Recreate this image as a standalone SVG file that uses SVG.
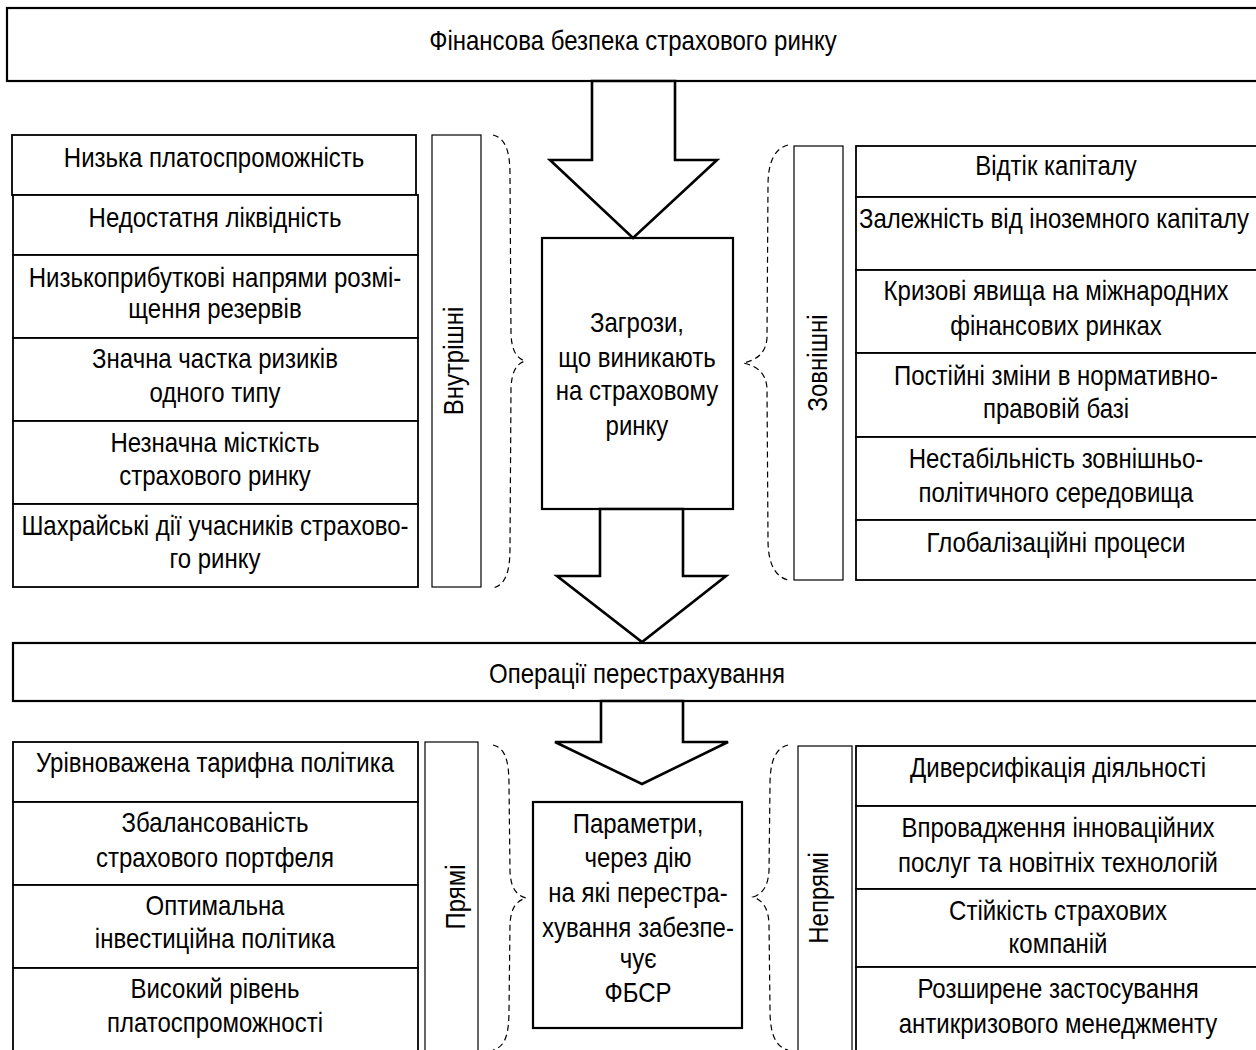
<svg xmlns="http://www.w3.org/2000/svg" width="1256" height="1050" viewBox="0 0 1256 1050">
<style>
text{font-family:"Liberation Sans",Arial,sans-serif;font-size:28px;fill:#000;text-anchor:middle}
.main{fill:#fff;stroke:#000;stroke-width:2.2}
.item{fill:#fff;stroke:#000;stroke-width:1.8}
.lab{fill:#fff;stroke:#000;stroke-width:1.2}
.arrow{fill:#fff;stroke:#000;stroke-width:2.6;stroke-linejoin:miter}
.brace{fill:none;stroke:#000;stroke-width:1.2;stroke-dasharray:6 4}
</style>
<rect width="1256" height="1050" fill="#fff"/>

<g id="title">
<rect class="main" x="7" y="8" width="1260" height="73"/>
<text transform="translate(633,0) scale(0.857,1)" x="0" y="50">Фінансова безпека страхового ринку</text>
</g>

<g id="internal-list">
<rect class="item" x="12" y="135" width="404" height="60"/>
<text transform="translate(214,0) scale(0.857,1)" x="0" y="167">Низька платоспроможність</text>
<rect class="item" x="13" y="195" width="405" height="60"/>
<text transform="translate(215,0) scale(0.857,1)" x="0" y="227">Недостатня ліквідність</text>
<rect class="item" x="13" y="255" width="405" height="83"/>
<text transform="translate(215,0) scale(0.857,1)"><tspan x="0" y="287">Низькоприбуткові напрями розмі-</tspan><tspan x="0" y="318">щення резервів</tspan></text>
<rect class="item" x="13" y="338" width="405" height="83"/>
<text transform="translate(215,0) scale(0.857,1)"><tspan x="0" y="368">Значна частка ризиків</tspan><tspan x="0" y="402">одного типу</tspan></text>
<rect class="item" x="13" y="421" width="405" height="83"/>
<text transform="translate(215,0) scale(0.857,1)"><tspan x="0" y="452">Незначна місткість</tspan><tspan x="0" y="485">страхового ринку</tspan></text>
<rect class="item" x="13" y="504" width="405" height="83"/>
<text transform="translate(215,0) scale(0.857,1)"><tspan x="0" y="535">Шахрайські дії учасників страхово-</tspan><tspan x="0" y="568">го ринку</tspan></text>
</g>

<g id="label-internal">
<rect class="lab" x="432" y="135" width="49" height="452"/>
<text transform="translate(463,361) rotate(-90) scale(0.857,1)" x="0" y="0">Внутрішні</text>
</g>

<g id="threats">
<rect class="main" x="542" y="238" width="191" height="271"/>
<text transform="translate(637,0) scale(0.857,1)"><tspan x="0" y="332">Загрози,</tspan><tspan x="0" y="367">що виникають</tspan><tspan x="0" y="400">на страховому</tspan><tspan x="0" y="435">ринку</tspan></text>
</g>

<g id="label-external">
<rect class="lab" x="794" y="146" width="49" height="434"/>
<text transform="translate(827,363) rotate(-90) scale(0.857,1)" x="0" y="0">Зовнішні</text>
</g>

<g id="external-list">
<rect class="item" x="856" y="146" width="404" height="51"/>
<text transform="translate(1056,0) scale(0.857,1)" x="0" y="175">Відтік капіталу</text>
<rect class="item" x="856" y="197" width="404" height="73"/>
<text transform="translate(1054,0) scale(0.857,1)" x="0" y="228">Залежність від іноземного капіталу</text>
<rect class="item" x="856" y="270" width="404" height="83"/>
<text transform="translate(1056,0) scale(0.857,1)"><tspan x="0" y="300">Кризові явища на міжнародних</tspan><tspan x="0" y="335">фінансових ринках</tspan></text>
<rect class="item" x="856" y="353" width="404" height="84"/>
<text transform="translate(1056,0) scale(0.857,1)"><tspan x="0" y="385">Постійні зміни в нормативно-</tspan><tspan x="0" y="418">правовій базі</tspan></text>
<rect class="item" x="856" y="437" width="404" height="83"/>
<text transform="translate(1056,0) scale(0.857,1)"><tspan x="0" y="468">Нестабільність зовнішньо-</tspan><tspan x="0" y="502">політичного середовища</tspan></text>
<rect class="item" x="856" y="520" width="404" height="60"/>
<text transform="translate(1056,0) scale(0.857,1)" x="0" y="552">Глобалізаційні процеси</text>
</g>

<g id="reinsurance">
<rect class="main" x="13" y="643" width="1260" height="58"/>
<text transform="translate(637,0) scale(0.857,1)" x="0" y="683">Операції перестрахування</text>
</g>

<g id="direct-list">
<rect class="item" x="13" y="742" width="405" height="60"/>
<text transform="translate(215,0) scale(0.857,1)" x="0" y="772">Урівноважена тарифна політика</text>
<rect class="item" x="13" y="802" width="405" height="83"/>
<text transform="translate(215,0) scale(0.857,1)"><tspan x="0" y="832">Збалансованість</tspan><tspan x="0" y="867">страхового портфеля</tspan></text>
<rect class="item" x="13" y="885" width="405" height="83"/>
<text transform="translate(215,0) scale(0.857,1)"><tspan x="0" y="915">Оптимальна</tspan><tspan x="0" y="948">інвестиційна політика</tspan></text>
<rect class="item" x="13" y="968" width="405" height="100"/>
<text transform="translate(215,0) scale(0.857,1)"><tspan x="0" y="998">Високий рівень</tspan><tspan x="0" y="1032">платоспроможності</tspan></text>
</g>

<g id="label-direct">
<rect class="lab" x="425" y="742" width="53" height="330"/>
<text transform="translate(465,897) rotate(-90) scale(0.857,1)" x="0" y="0">Прямі</text>
</g>

<g id="parameters">
<rect class="main" x="533" y="802" width="209" height="226"/>
<text transform="translate(638,0) scale(0.857,1)"><tspan x="0" y="833">Параметри,</tspan><tspan x="0" y="867">через дію</tspan><tspan x="0" y="902">на які перестра-</tspan><tspan x="0" y="937">хування забезпе-</tspan><tspan x="0" y="968">чує</tspan><tspan x="0" y="1002">ФБСР</tspan></text>
</g>

<g id="label-indirect">
<rect class="lab" x="798" y="746" width="54" height="330"/>
<text transform="translate(828,898) rotate(-90) scale(0.857,1)" x="0" y="0">Непрямі</text>
</g>

<g id="indirect-list">
<rect class="item" x="856" y="746" width="404" height="60"/>
<text transform="translate(1058,0) scale(0.857,1)" x="0" y="777">Диверсифікація діяльності</text>
<rect class="item" x="856" y="806" width="404" height="83"/>
<text transform="translate(1058,0) scale(0.857,1)"><tspan x="0" y="837">Впровадження інноваційних</tspan><tspan x="0" y="872">послуг та новітніх технологій</tspan></text>
<rect class="item" x="856" y="889" width="404" height="78"/>
<text transform="translate(1058,0) scale(0.857,1)"><tspan x="0" y="920">Стійкість страхових</tspan><tspan x="0" y="953">компаній</tspan></text>
<rect class="item" x="856" y="967" width="404" height="100"/>
<text transform="translate(1058,0) scale(0.857,1)"><tspan x="0" y="998">Розширене застосування</tspan><tspan x="0" y="1033">антикризового менеджменту</tspan></text>
</g>

<g id="connectors">
<polygon class="arrow" points="592,81 675,81 675,160 717,160 633,238 550,160 592,160"/>
<polygon class="arrow" points="600,509 683,509 683,576 726,576 642,642 557,576 600,576"/>
<polygon class="arrow" points="601,701 683,701 683,742 728,742 642,784 555,742 601,742"/>
<path class="brace" d="M493,135 C505,138 510,150 510,175 L511,335 C512,350 516,358 525,361 C516,364 512,372 511,387 L510,548 C510,573 505,585 493,588"/>
<path class="brace" d="M788,145 C776,148 768,160 768,185 L767,338 C766,352 758,360 743,363 C758,366 766,374 767,388 L768,540 C768,565 776,577 788,580"/>
<path class="brace" d="M493,745 C505,748 509,760 509,785 L510,872 C511,888 516,895 526,898 C516,901 511,908 510,924 L509,1010 C509,1035 505,1047 493,1050"/>
<path class="brace" d="M788,745 C776,748 770,760 770,785 L769,871 C768,887 762,894 753,897 C762,900 768,907 769,923 L770,1010 C770,1035 776,1047 788,1050"/>
</g>
</svg>
